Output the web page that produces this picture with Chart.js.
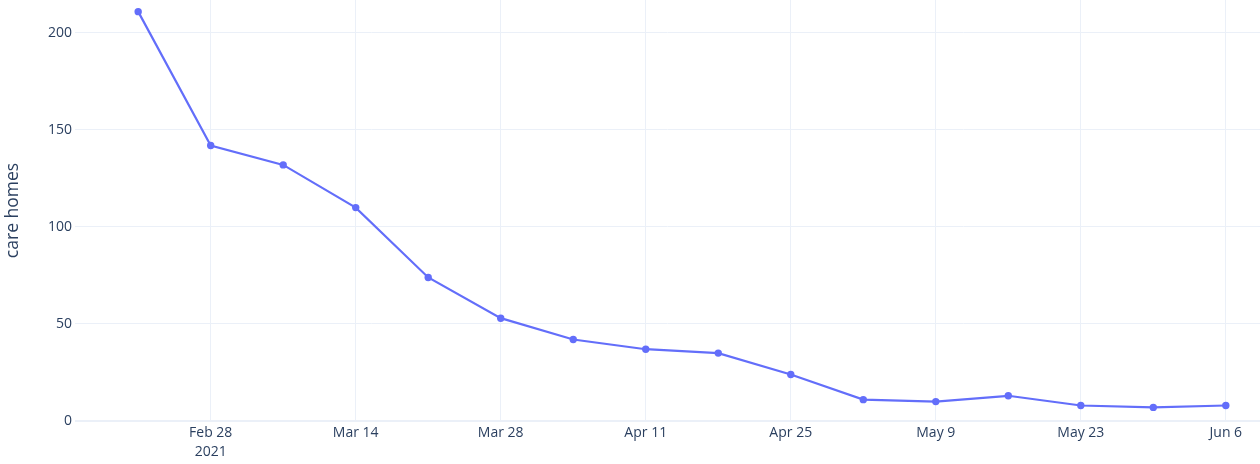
<!DOCTYPE html>
<html>
<head>
<meta charset="utf-8">
<script src="https://cdn.jsdelivr.net/npm/chart.js@4"></script>
<style>
  html, body { margin: 0; padding: 0; background: #fff; }
  #wrap { width: 1260px; height: 464px; position: relative; }
</style>
</head>
<body>
<div id="wrap"><canvas id="chart"></canvas></div>
<script>
// weekly counts of care homes
const weekDates = ["2021-02-21","2021-02-28","2021-03-07","2021-03-14","2021-03-21","2021-03-28",
  "2021-04-04","2021-04-11","2021-04-18","2021-04-25","2021-05-02","2021-05-09",
  "2021-05-16","2021-05-23","2021-05-30","2021-06-06"];
const careHomes = [211, 142, 132, 110, 74, 53, 42, 37, 35, 24, 11, 10, 13, 8, 7, 8];

const tickDates = ["2021-02-28","2021-03-14","2021-03-28","2021-04-11","2021-04-25","2021-05-09","2021-05-23","2021-06-06"];
const yTicks = [0, 50, 100, 150, 200];
const months = ["Jan","Feb","Mar","Apr","May","Jun","Jul","Aug","Sep","Oct","Nov","Dec"];

// days counted from Feb 28 so the linear axis can stand in for a time axis
const base = Date.UTC(2021, 1, 28);
function dayOf(s) {
  const p = s.split("-").map(Number);
  return (Date.UTC(p[0], p[1] - 1, p[2]) - base) / 86400000;
}
function labelOf(d) {
  const dt = new Date(base + d * 86400000);
  const txt = months[dt.getUTCMonth()] + " " + dt.getUTCDate();
  return d === 0 ? [txt, String(dt.getUTCFullYear())] : txt;
}

const points = weekDates.map((d, i) => ({ x: dayOf(d), y: careHomes[i] }));
const gridCol = "#ebf0f8";
const textCol = "#2a3f5f";
const font = { family: "'Open Sans', sans-serif", size: 14 };

new Chart(document.getElementById("chart"), {
  type: "line",
  data: {
    datasets: [{
      data: points,
      borderColor: "#636efa",
      backgroundColor: "#636efa",
      borderWidth: 2.2,
      pointRadius: 3.7,
      pointBorderWidth: 0,
      tension: 0,
      clip: false
    }]
  },
  options: {
    responsive: true,
    maintainAspectRatio: false,
    animation: false,
    events: [],
    layout: { padding: 0, autoPadding: false },
    plugins: { legend: { display: false }, tooltip: { enabled: false } },
    scales: {
      x: {
        type: "linear",
        min: -13.1,
        max: 101.3,
        afterBuildTicks: s => { s.ticks = tickDates.map(d => ({ value: dayOf(d) })); },
        afterFit: s => { s.height = 43; s.paddingLeft = 0; s.paddingRight = 0; },
        grid: { color: gridCol, lineWidth: 1, drawTicks: false },
        border: { display: false },
        ticks: {
          callback: v => labelOf(v),
          color: textCol,
          font: { ...font, lineHeight: 1.4 },
          padding: 2,
          maxRotation: 0,
          autoSkip: false
        }
      },
      y: {
        min: 0,
        max: 217,
        afterBuildTicks: s => { s.ticks = yTicks.map(v => ({ value: v })); },
        afterFit: s => { s.width = 75; s.paddingTop = 0; s.paddingBottom = 0; },
        grid: {
          color: gridCol,
          lineWidth: c => (c.tick && c.tick.value === 0 ? 2 : 1),
          drawTicks: false
        },
        border: { display: false },
        ticks: { color: textCol, font: font, padding: 3 },
        title: {
          display: true,
          text: "care homes",
          color: textCol,
          font: { family: "'Open Sans', sans-serif", size: 17.5 },
          padding: { top: 3, bottom: 0 }
        }
      }
    }
  }
});
</script>
</body>
</html>
